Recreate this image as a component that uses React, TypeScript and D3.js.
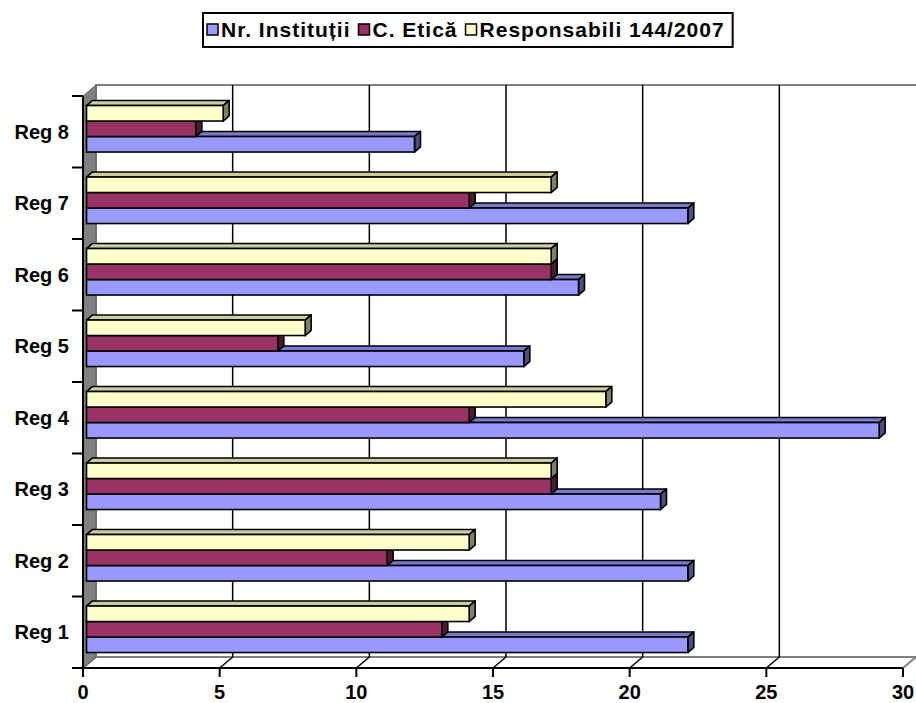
import React, { useEffect, useRef } from "react";
import * as d3 from "d3";

const categories = ["Reg 1", "Reg 2", "Reg 3", "Reg 4", "Reg 5", "Reg 6", "Reg 7", "Reg 8"];
const nrInstitutii = [22, 22, 21, 29, 16, 18, 22, 12];
const cEtica = [13, 11, 17, 14, 7, 17, 14, 4];
const responsabili = [14, 14, 17, 19, 8, 17, 17, 5];
const xTicks = [0, 5, 10, 15, 20, 25, 30];
const seriesNames = ["Nr. Instituții", "C. Etică", "Responsabili 144/2007"];
const seriesColors = ["#9999FF", "#993366", "#FFFFCC"];

const W = 916;
const H = 703;
const FONT = "'Liberation Sans', Arial, sans-serif";

export default function App() {
  const ref = useRef<SVGSVGElement>(null);

  useEffect(() => {
    const svg = d3.select(ref.current);
    svg.selectAll("*").remove();

    const X0 = 83, X1 = 903, Y0 = 96, Y1 = 668;
    const DX = 13, DY = -11;
    const fF = 0.27, fB = 0.73; // bar front/back depth fractions

    const x = d3.scaleLinear().domain([0, 30]).range([X0, X1]);
    const yCat = d3.scaleBand<string>().domain([...categories].reverse()).range([Y0, Y1]).padding(0);
    const seriesOrder = [2, 1, 0]; // top to bottom
    const ySer = d3.scaleBand<number>().domain(seriesOrder).range([0, yCat.bandwidth()]).paddingInner(0).paddingOuter(0.806);

    const seriesValues = [nrInstitutii, cEtica, responsabili];

    // back wall
    svg.append("rect")
      .attr("x", X0 + DX).attr("y", Y0 + DY)
      .attr("width", X1 - X0 + 2).attr("height", Y1 - Y0)
      .attr("fill", "#ffffff").attr("stroke", "#808080").attr("stroke-width", 2);

    // floor
    svg.append("polygon")
      .attr("points", [[X0, Y1], [X1, Y1], [X1 + DX, Y1 + DY], [X0 + DX, Y1 + DY]].map(p => p.join(",")).join(" "))
      .attr("fill", "#ffffff").attr("stroke", "#808080").attr("stroke-width", 2);

    // left wall
    svg.append("polygon")
      .attr("points", [[X0, Y0], [X0 + DX, Y0 + DY], [X0 + DX, Y1 + DY], [X0, Y1]].map(p => p.join(",")).join(" "))
      .attr("fill", "#808080").attr("stroke", "#606060").attr("stroke-width", 1);

    // gridlines
    xTicks.filter(v => v > 0 && v < 30).forEach(v => {
      const xf = x(v);
      svg.append("path")
        .attr("d", `M${xf},${Y1}L${xf + DX},${Y1 + DY}L${xf + DX},${Y0 + DY}`)
        .attr("fill", "none").attr("stroke", "#000").attr("stroke-width", 1.5);
    });

    // bars
    const shade = (c: string, k: number) => {
      const col = d3.rgb(c);
      return d3.rgb(col.r * k, col.g * k, col.b * k).formatHex();
    };
    const bdx = DX * (fB - fF), bdy = DY * (fB - fF);
    const offX = DX * fF, offY = DY * fF;
    const g = svg.append("g");
    [...categories].reverse().forEach(cat => {
      const ci = categories.indexOf(cat);
      [0, 1, 2].forEach(si => {
        const v = seriesValues[si][ci];
        const xs = x(0) + offX;
        const xe = x(v) + offX;
        const yt = (yCat(cat) as number) + (ySer(si) as number) + offY;
        const yb = yt + ySer.bandwidth();
        const col = seriesColors[si];
        const gb = g.append("g");
        gb.append("polygon")
          .attr("points", [[xs, yt], [xe, yt], [xe + bdx, yt + bdy], [xs + bdx, yt + bdy]].map(p => p.join(",")).join(" "))
          .attr("fill", shade(col, 0.8)).attr("stroke", "#000").attr("stroke-width", 1.6).attr("stroke-linejoin", "round");
        gb.append("polygon")
          .attr("points", [[xe, yt], [xe + bdx, yt + bdy], [xe + bdx, yb + bdy], [xe, yb]].map(p => p.join(",")).join(" "))
          .attr("fill", shade(col, 0.5)).attr("stroke", "#000").attr("stroke-width", 1.6).attr("stroke-linejoin", "round");
        gb.append("rect")
          .attr("x", xs).attr("y", yt).attr("width", xe - xs).attr("height", yb - yt)
          .attr("fill", col).attr("stroke", "#000").attr("stroke-width", 1.6);
      });
    });

    // axes
    svg.append("line").attr("x1", X0).attr("x2", X0).attr("y1", Y0).attr("y2", Y1)
      .attr("stroke", "#000").attr("stroke-width", 2);
    svg.append("line").attr("x1", X0 - 11).attr("x2", X1).attr("y1", Y1).attr("y2", Y1)
      .attr("stroke", "#000").attr("stroke-width", 2);
    const catBounds = [...categories].reverse().map(c => yCat(c) as number).concat([Y1]);
    catBounds.forEach(yy => {
      svg.append("line").attr("x1", X0 - 11).attr("x2", X0).attr("y1", yy).attr("y2", yy)
        .attr("stroke", "#000").attr("stroke-width", 2);
    });
    xTicks.forEach(v => {
      svg.append("line").attr("x1", x(v)).attr("x2", x(v)).attr("y1", Y1).attr("y2", Y1 + 9)
        .attr("stroke", "#000").attr("stroke-width", 2);
      svg.append("text").attr("x", x(v)).attr("y", 699)
        .attr("text-anchor", "middle").attr("font-family", FONT).attr("font-weight", "bold")
        .attr("font-size", 20).text(String(v));
    });
    categories.forEach(c => {
      svg.append("text").attr("x", 69).attr("y", (yCat(c) as number) + yCat.bandwidth() / 2)
        .attr("dy", "0.35em").attr("text-anchor", "end").attr("font-family", FONT)
        .attr("font-weight", "bold").attr("font-size", 20).text(c);
    });

    // legend
    const lg = svg.append("g");
    const box = lg.append("rect").attr("fill", "#fff").attr("stroke", "#000").attr("stroke-width", 2);
    let cx = 207;
    const ly = 30;
    seriesNames.forEach((name, i) => {
      lg.append("rect").attr("x", cx).attr("y", ly - 6).attr("width", 11).attr("height", 11)
        .attr("fill", seriesColors[i]).attr("stroke", "#000").attr("stroke-width", 1.5);
      const t = lg.append("text").attr("x", cx + 14).attr("y", ly).attr("dy", "0.35em")
        .attr("font-family", FONT).attr("font-weight", "bold").attr("font-size", 21)
        .attr("letter-spacing", 1).text(name);
      const w = (t.node() as SVGTextElement).getComputedTextLength();
      cx = cx + 14 + w + 8;
    });
    box.attr("x", 203).attr("y", 13).attr("width", cx - 203).attr("height", 34);
  }, []);

  return (
    <svg ref={ref} width={W} height={H} style={{ position: "absolute", left: 0, top: 0, background: "#fff" }} />
  );
}
